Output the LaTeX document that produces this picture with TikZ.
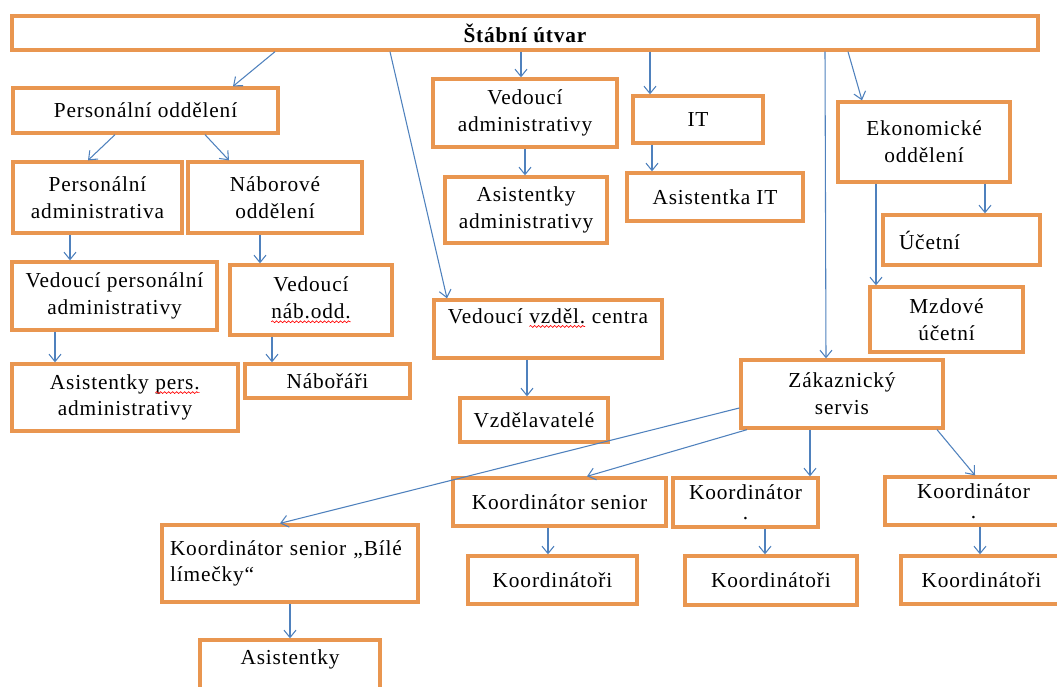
\documentclass[tikz,border=0pt]{standalone}
\usepackage{fontspec}
\setmainfont{LiberationSerif}[Extension=.ttf,UprightFont=*-Regular,BoldFont=*-Bold,ItalicFont=*-Italic,BoldItalicFont=*-BoldItalic,LetterSpace=4]
\usetikzlibrary{arrows.meta,decorations.pathmorphing}
\definecolor{boxorange}{RGB}{233,150,80}
\definecolor{arrowblue}{RGB}{79,129,189}
\newcommand\redwave[1]{\tikz[baseline=(wv.base)]{\node[draw=none,fill=none,inner sep=0pt,outer sep=0pt,anchor=base,minimum width=0pt,minimum height=0pt] (wv) {#1};
  \draw[red,line width=0.5pt,decorate,decoration={snake,amplitude=0.7pt,segment length=3pt}] ([yshift=-2.5pt]wv.base west) -- ([yshift=-2.5pt]wv.base east);}}
\newcommand\bx[7][]{\node[box,#1,minimum width={(#5-#3)*0.75pt},minimum height={(#6-#4)*0.75pt}] (#2) at ({(#3+#5)/2},{(#4+#6)/2}) {#7};}
\tikzset{
  box/.style={draw=boxorange, line width=2.5pt, fill=white, inner sep=0pt, align=center,
    font=\fontsize{16}{20}\selectfont},
  conn/.style={draw=arrowblue, line width=0.8pt, -{Straight Barb[length=5.5pt,width=9pt]}},
}
\begin{document}
\begin{tikzpicture}[x=0.75pt,y=-0.75pt]
\useasboundingbox (0,0) rectangle (1057,686);
\clip (0,0) rectangle (1057,686);
\bx[font=\fontsize{16}{20}\selectfont\bfseries]{top}{12}{16}{1038}{50}{Štábní útvar}
\bx{po}{13}{88}{278}{133}{Personální oddělení}
\bx{pa}{13}{162}{182}{233}{Personální\\administrativa}
\bx{no}{188}{162}{362}{233}{Náborové\\oddělení}
\bx{vpa}{12}{262}{217}{330}{Vedoucí personální\\administrativy}
\bx{vno}{230}{265}{392}{335}{Vedoucí\\\redwave{náb.odd.}}
\bx{apa}{12}{364}{238}{431}{Asistentky \redwave{pers.}\\administrativy}
\bx{nab}{245}{364}{410}{398}{Nábořáři}
\bx{va}{433}{79}{617}{147}{Vedoucí\\administrativy}
\bx{asa}{445}{177}{607}{243}{Asistentky\\administrativy}
\bx{it}{633}{96}{763}{143}{IT}
\bx{ait}{627}{173}{803}{221}{Asistentka IT}
\bx{eo}{838}{102}{1010}{182}{Ekonomické\\oddělení}
\bx[align=left,inner xsep=12pt,text width={(1040-883)*0.75pt-24pt}]{uc}{883}{215}{1040}{265}{Účetní}
\bx{mz}{870}{287}{1023}{352}{Mzdové\\účetní}
\bx{vvc}{434}{300}{662}{358}{Vedoucí \redwave{vzděl.} centra\\\mbox{}}
\bx{vzd}{460}{398}{608}{442}{Vzdělavatelé}
\bx{zs}{741}{360}{943}{428}{Zákaznický\\servis}
\bx{ks}{453}{478}{666}{526}{Koordinátor senior}
\bx{ka}{673}{478}{818}{527}{Koordinátor\\[-5pt].}
\bx{kc}{885}{477}{1062}{525}{Koordinátor\\[-5pt].}
\bx{koa}{468}{556}{637}{604}{Koordinátoři}
\bx{kob}{685}{556}{857}{605}{Koordinátoři}
\bx{koc}{901}{556}{1062}{604}{Koordinátoři}
\bx[align=left,inner xsep=6pt,text width={(418-162)*0.75pt-12pt}]{kb}{162}{525}{418}{602}{Koordinátor senior „Bílé\\límečky“}
\bx{as}{200}{640}{380}{700}{Asistentky\\\mbox{}}
% connectors
\draw[conn] (top.south -| 275,0) -- (po.north -| 233,0);
\draw[conn] (top.south -| 390,0) -- (vvc.north -| 447,0);
\draw[conn] (top.south -| 521,0) -- (va.north -| 521,0);
\draw[conn] (top.south -| 650,0) -- (it.north -| 650,0);
\draw[conn] (top.south -| 825,0) -- (zs.north -| 826,0);
\draw[conn] (top.south -| 848,0) -- (eo.north -| 862,0);
\draw[conn] (po.south -| 115,0) -- (pa.north -| 88,0);
\draw[conn] (po.south -| 205,0) -- (no.north -| 229,0);
\draw[conn] (pa.south -| 70,0) -- (vpa.north -| 70,0);
\draw[conn] (no.south -| 260,0) -- (vno.north -| 260,0);
\draw[conn] (vpa.south -| 55,0) -- (apa.north -| 55,0);
\draw[conn] (vno.south -| 272,0) -- (nab.north -| 272,0);
\draw[conn] (va.south -| 525,0) -- (asa.north -| 525,0);
\draw[conn] (it.south -| 652,0) -- (ait.north -| 652,0);
\draw[conn] (eo.south -| 985,0) -- (uc.north -| 985,0);
\draw[conn] (eo.south -| 876,0) -- (mz.north -| 876,0);
\draw[conn] (vvc.south -| 527,0) -- (vzd.north -| 527,0);
\draw[conn] (zs.west |- 0,408) -- (kb.north -| 280,0);
\draw[conn] (zs.south -| 747,0) -- (ks.north -| 587,0);
\draw[conn] (zs.south -| 810,0) -- (ka.north -| 810,0);
\draw[conn] (zs.south -| 937,0) -- (kc.north -| 975,0);
\draw[conn] (ks.south -| 548,0) -- (koa.north -| 548,0);
\draw[conn] (ka.south -| 765,0) -- (kob.north -| 765,0);
\draw[conn] (kc.south -| 980,0) -- (koc.north -| 980,0);
\draw[conn] (kb.south -| 290,0) -- (as.north -| 290,0);
\end{tikzpicture}
\end{document}
